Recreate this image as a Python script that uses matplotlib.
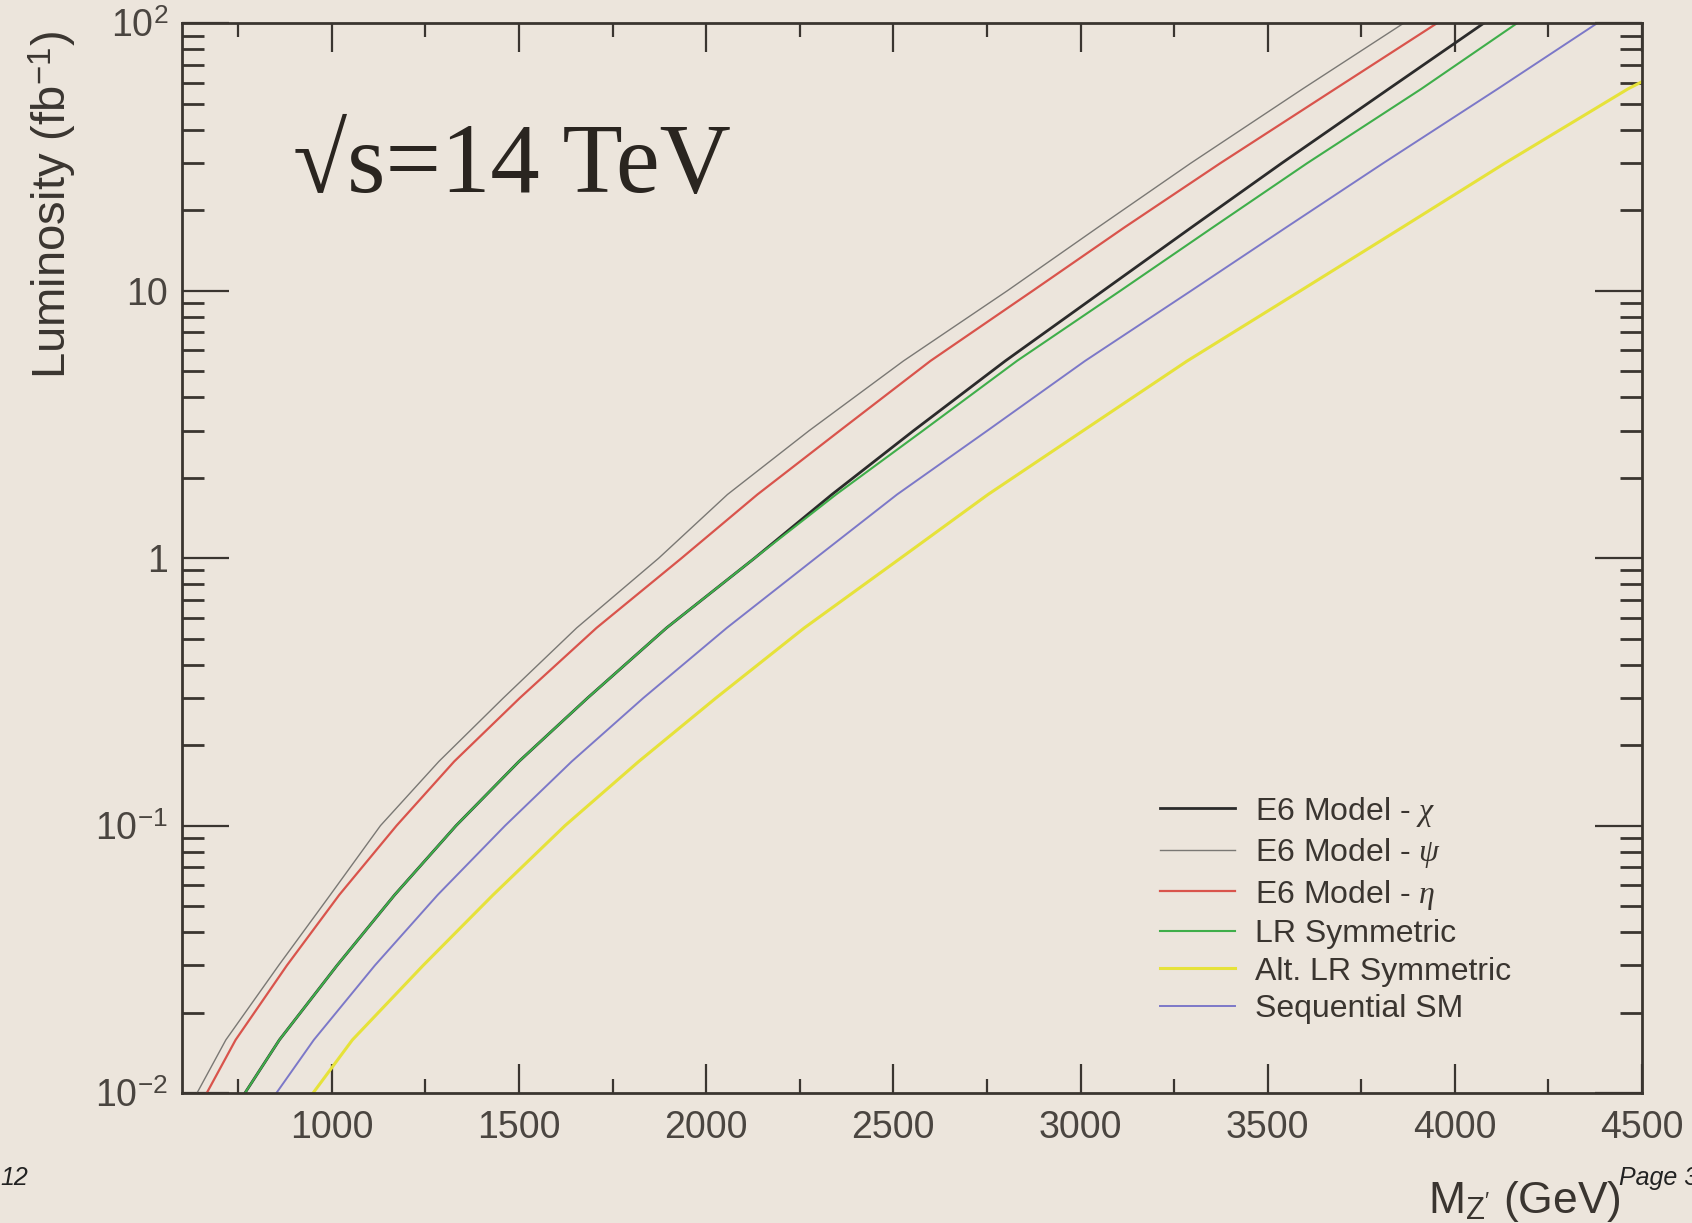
import numpy as np
import matplotlib
matplotlib.use('Agg')
import matplotlib.pyplot as plt

plt.rcParams['mathtext.fontset'] = 'custom'
plt.rcParams['mathtext.rm'] = 'Liberation Sans'
plt.rcParams['mathtext.it'] = 'Liberation Serif:italic'
plt.rcParams['font.family'] = ['Liberation Sans', 'DejaVu Sans']

lumi_levels = [0.01, 0.0158, 0.03, 0.0551, 0.1, 0.1738, 0.3, 0.5487, 1,
               1.732, 3, 5.469, 10, 17.26, 30, 56.9, 100]

# Z' mass (GeV) reached at each luminosity level
psi_mass = [640, 717, 858, 996, 1130, 1286, 1458, 1654, 1873,
            2057, 2275, 2527, 2804, 3046, 3294, 3593, 3862]
eta_mass = [666, 743, 880, 1020, 1173, 1327, 1502, 1707, 1934,
            2137, 2357, 2599, 2872, 3117, 3373, 3680, 3951]
chi_mass = [768, 860, 1014, 1168, 1332, 1500, 1683, 1894, 2129,
            2336, 2554, 2799, 3060, 3296, 3537, 3823, 4076]
lr_mass = [768, 860, 1014, 1168, 1332, 1500, 1683, 1894, 2129,
           2347, 2579, 2830, 3106, 3353, 3605, 3910, 4165]
ssm_mass = [852, 952, 1115, 1283, 1463, 1641, 1832, 2055, 2292,
            2510, 2751, 3012, 3295, 3549, 3808, 4114, 4379]
altlr_mass = [950, 1055, 1244, 1431, 1623, 1820, 2026, 2262, 2519,
              2753, 3007, 3285, 3587, 3859, 4133, 4462, 4500]
altlr_lumi = [0.01, 0.0158, 0.03, 0.0551, 0.1, 0.1738, 0.3, 0.5487, 1,
              1.732, 3, 5.469, 10, 17.26, 30, 56.9, 60.6]

x_ticks = [1000, 1500, 2000, 2500, 3000, 3500, 4000, 4500]
y_ticks = [1e-2, 1e-1, 1, 10, 100]
y_tick_labels = ['$10^{-2}$', '$10^{-1}$', '1', '10', '$10^{2}$']

bg = '#ece5dc'
ink = '#3a3530'

fig = plt.figure(figsize=(16.92, 12.23), dpi=100, facecolor=bg)
ax = fig.add_axes([0.1076, 0.1063, 0.8629, 0.8745], facecolor=bg)

ax.plot(chi_mass, lumi_levels, color='#2b2b2b', lw=2.0, label=r'E6 Model - $\chi$')
ax.plot(psi_mass, lumi_levels, color='#7a7874', lw=1.0, label=r'E6 Model - $\psi$')
ax.plot(eta_mass, lumi_levels, color='#d9544c', lw=1.6, label=r'E6 Model - $\eta$')
ax.plot(lr_mass, lumi_levels, color='#3fae4a', lw=1.5, label='LR Symmetric')
ax.plot(altlr_mass, altlr_lumi, color='#e6e23a', lw=2.2, label='Alt. LR Symmetric')
ax.plot(ssm_mass, lumi_levels, color='#7c78c8', lw=1.4, label='Sequential SM')

ax.set_yscale('log')
ax.set_xlim(600, 4500)
ax.set_ylim(1e-2, 1e2)

ax.set_xticks(x_ticks)
ax.set_xticklabels([str(v) for v in x_ticks])
ax.set_xticks(np.arange(750, 4500, 500), minor=True)
ax.set_yticks(y_ticks)
ax.set_yticklabels(y_tick_labels)

ax.tick_params(axis='both', which='both', direction='in', top=True, right=True,
               color=ink)
ax.tick_params(axis='x', which='major', length=21, width=1.6, pad=12,
               labelsize=27, labelcolor='#4a4540')
ax.tick_params(axis='x', which='minor', length=10, width=1.6)
ax.tick_params(axis='y', which='major', length=34, width=1.6, pad=10,
               labelsize=27, labelcolor='#4a4540')
ax.tick_params(axis='y', which='minor', length=16, width=2.0)

for sp in ax.spines.values():
    sp.set_color(ink)
    sp.set_linewidth(2.0)

leg = ax.legend(loc='upper left', bbox_to_anchor=(0.67, 0.279), frameon=False,
                fontsize=23, handlelength=2.35, handletextpad=0.63,
                labelspacing=0.235, borderpad=0, borderaxespad=0)
for t in leg.get_texts():
    t.set_color('#3a3530')

ax.text(0.076, 0.842, '\u221as=14 TeV', transform=ax.transAxes,
        family=['Liberation Serif', 'DejaVu Serif'], fontsize=71,
        color='#2a2520', ha='left', va='baseline')

fig.text(0.031, 0.832, 'Luminosity (fb$^{-1}$)', rotation=90, ha='center',
         va='center', fontsize=34, color='#3a3530')
fig.text(0.844, 0.008, r"M$_{\mathrm{Z'}}$ (GeV)", ha='left', va='baseline',
         fontsize=32, color='#3a3530')
fig.text(0.0, 0.031, '12', ha='left', va='baseline', fontsize=18,
         style='italic', color='#222222')
fig.text(0.957, 0.031, 'Page 36', ha='left', va='baseline', fontsize=18,
         style='italic', color='#222222')

fig.savefig('out.png', dpi=100, facecolor=bg)
